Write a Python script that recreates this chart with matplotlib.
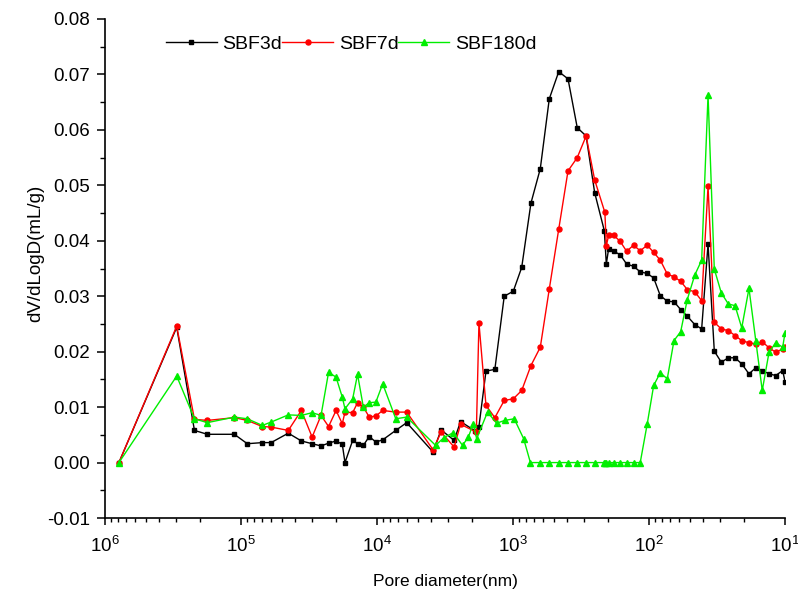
import numpy as np
import matplotlib.pyplot as plt
from matplotlib.ticker import FormatStrFormatter, MultipleLocator, LogLocator

plt.rcParams['font.family'] = ['Liberation Sans', 'DejaVu Sans']
plt.rcParams['axes.unicode_minus'] = False

# Pore size distribution, dV/dlogD vs pore diameter (nm)
d_3d = [7.9e5, 2.97e5, 2.2e5, 1.77e5, 1.12e5, 8.99e4, 6.97e4, 6.01e4, 4.49e4, 3.6e4,
        3.0e4, 2.58e4, 2.27e4, 2.0e4, 1.8e4, 1.72e4, 1.51e4, 1.39e4, 1.26e4, 1.14e4,
        1.02e4, 9.08e3, 7.28e3, 6.05e3, 3.87e3, 3.38e3, 2.71e3, 2.43e3, 1.9e3, 1.78e3,
        1.58e3, 1.36e3, 1.16e3, 995, 863, 738, 630, 541, 461, 394,
        337, 290, 251, 213, 206, 198, 182, 163, 146, 130,
        116, 103, 92.4, 82.6, 73.4, 65.5, 58.5, 52.3, 46.1, 41.0,
        36.8, 33.1, 29.4, 26.1, 23.3, 20.8, 18.4, 16.4, 14.7, 13.1,
        11.7, 10.4, 10.0]
v_3d = [0.0, 0.0244, 0.0058, 0.0051, 0.0051, 0.0034, 0.0036, 0.0036, 0.0053, 0.0039,
        0.0034, 0.0030, 0.0035, 0.0039, 0.0033, 0.0, 0.0040, 0.0034, 0.0031, 0.0047,
        0.0037, 0.0041, 0.0058, 0.0072, 0.0019, 0.0059, 0.0040, 0.0074, 0.0057, 0.0065,
        0.0165, 0.0168, 0.0300, 0.0309, 0.0352, 0.0468, 0.0530, 0.0656, 0.0705, 0.0692,
        0.0604, 0.0589, 0.0487, 0.0418, 0.0358, 0.0386, 0.0381, 0.0375, 0.0358, 0.0354,
        0.0344, 0.0341, 0.0333, 0.0301, 0.0291, 0.0290, 0.0276, 0.0264, 0.0249, 0.0241,
        0.0394, 0.0201, 0.0181, 0.0189, 0.0189, 0.0178, 0.0160, 0.0171, 0.0166, 0.0160,
        0.0157, 0.0166, 0.0146]

d_7d = [7.9e5, 2.97e5, 2.2e5, 1.77e5, 1.12e5, 8.99e4, 6.97e4, 6.01e4, 4.49e4, 3.6e4,
        3.0e4, 2.58e4, 2.27e4, 2.0e4, 1.8e4, 1.72e4, 1.51e4, 1.39e4, 1.26e4, 1.14e4,
        1.02e4, 9.08e3, 7.28e3, 6.05e3, 3.87e3, 3.38e3, 2.71e3, 2.43e3, 1.86e3, 1.78e3,
        1.58e3, 1.36e3, 1.16e3, 995, 863, 738, 630, 541, 461, 394,
        337, 290, 251, 211, 206, 198, 182, 163, 146, 130,
        116, 103, 92.4, 82.6, 73.4, 65.5, 58.5, 52.3, 46.1, 41.0,
        36.8, 33.1, 29.4, 26.1, 23.3, 20.8, 18.4, 16.4, 14.7, 13.1,
        11.7, 10.4, 10.0]
v_7d = [0.0, 0.0246, 0.0078, 0.0076, 0.0081, 0.0076, 0.0065, 0.0064, 0.0058, 0.0094,
        0.0046, 0.0085, 0.0065, 0.0094, 0.0070, 0.0091, 0.0090, 0.0108, 0.0100, 0.0082,
        0.0084, 0.0094, 0.0091, 0.0091, 0.0023, 0.0055, 0.0028, 0.0069, 0.0055, 0.0252,
        0.0103, 0.0081, 0.0112, 0.0115, 0.0130, 0.0175, 0.0208, 0.0313, 0.0421, 0.0526,
        0.0550, 0.0589, 0.0510, 0.0451, 0.0391, 0.0410, 0.0410, 0.0399, 0.0381, 0.0392,
        0.0382, 0.0392, 0.0379, 0.0365, 0.0340, 0.0335, 0.0327, 0.0312, 0.0308, 0.0292,
        0.0498, 0.0253, 0.0241, 0.0238, 0.0229, 0.0220, 0.0216, 0.0214, 0.0218, 0.0207,
        0.0199, 0.0205, 0.0208]

d_180d = [7.9e5, 2.97e5, 2.2e5, 1.77e5, 1.12e5, 8.99e4, 6.97e4, 6.01e4, 4.49e4, 3.6e4,
          3.0e4, 2.58e4, 2.27e4, 2.0e4, 1.8e4, 1.72e4, 1.51e4, 1.39e4, 1.26e4, 1.14e4,
          1.02e4, 9.08e3, 7.28e3, 6.05e3, 3.71e3, 3.22e3, 2.75e3, 2.35e3, 2.13e3, 1.96e3,
          1.85e3, 1.54e3, 1.32e3, 1.15e3, 980, 835, 745, 630, 541, 461,
          394, 337, 290, 251, 213, 209, 206, 198, 182, 163,
          146, 130, 116, 103, 92.4, 82.6, 73.4, 65.5, 58.5, 52.3,
          46.1, 41.0, 36.8, 33.1, 29.4, 26.1, 23.3, 20.8, 18.4, 16.4,
          14.7, 13.1, 11.7, 10.4, 10.0]
v_180d = [0.0, 0.0156, 0.0079, 0.0072, 0.0082, 0.0079, 0.0067, 0.0073, 0.0086, 0.0085,
          0.0090, 0.0085, 0.0163, 0.0154, 0.0118, 0.0097, 0.0115, 0.0159, 0.0100, 0.0108,
          0.0109, 0.0142, 0.0079, 0.0082, 0.0031, 0.0045, 0.0054, 0.0031, 0.0046, 0.0070,
          0.0043, 0.0091, 0.0071, 0.0076, 0.0079, 0.0043, 0.0, 0.0, 0.0, 0.0,
          0.0, 0.0, 0.0, 0.0, 0.0, 0.0, 0.0, 0.0, 0.0, 0.0,
          0.0, 0.0, 0.0, 0.0070, 0.0139, 0.0162, 0.0151, 0.0220, 0.0236, 0.0294,
          0.0338, 0.0365, 0.0663, 0.0349, 0.0306, 0.0286, 0.0283, 0.0243, 0.0314, 0.0220,
          0.0130, 0.0199, 0.0216, 0.0208, 0.0234]

fig = plt.figure(figsize=(7.98, 5.99), dpi=100)
ax = fig.add_axes([0.1316, 0.1352, 0.8521, 0.8331])

ax.plot(d_3d, v_3d, color='black', lw=1.0, marker='s', ms=3.2, label='SBF3d')
ax.plot(d_7d, v_7d, color='#ff0000', lw=1.0, marker='o', ms=3.6, label='SBF7d')
ax.plot(d_180d, v_180d, color='#00ee00', lw=1.0, marker='^', ms=4.2, label='SBF180d')

ax.set_xscale('log')
ax.set_xlim(1e6, 1e1)
ax.set_ylim(-0.01, 0.08)
ax.xaxis.set_major_locator(LogLocator(base=10, numticks=10))
ax.xaxis.set_minor_locator(LogLocator(base=10, subs=np.arange(2, 10), numticks=20))
ax.yaxis.set_major_locator(MultipleLocator(0.01))
ax.yaxis.set_minor_locator(MultipleLocator(0.005))
ax.yaxis.set_major_formatter(FormatStrFormatter('%.2f'))

for s in ['top', 'right']:
    ax.spines[s].set_visible(False)
for s in ['left', 'bottom']:
    ax.spines[s].set_linewidth(1.2)

ax.tick_params(axis='y', which='major', direction='out', length=6, width=1.1, labelsize=13.5, pad=5)
ax.tick_params(axis='y', which='minor', direction='out', length=3.5, width=1.0)
ax.tick_params(axis='x', which='major', direction='out', length=5, width=1.1, labelsize=13.5, pad=8)
ax.tick_params(axis='x', which='minor', direction='out', length=3, width=1.0)

ax.set_xlabel('Pore diameter(nm)', fontsize=12.5, labelpad=13)
ax.set_ylabel('dV/dLogD(mL/g)', fontsize=13.5)
ax.yaxis.set_label_coords(-0.09, 0.53)

ax.legend(loc='upper left', bbox_to_anchor=(0.09, 0.968), ncol=3, frameon=False,
          fontsize=14, handlelength=2.6, handletextpad=0.3, columnspacing=0.0,
          borderpad=0, borderaxespad=0)

fig.savefig('out.png', dpi=100)
